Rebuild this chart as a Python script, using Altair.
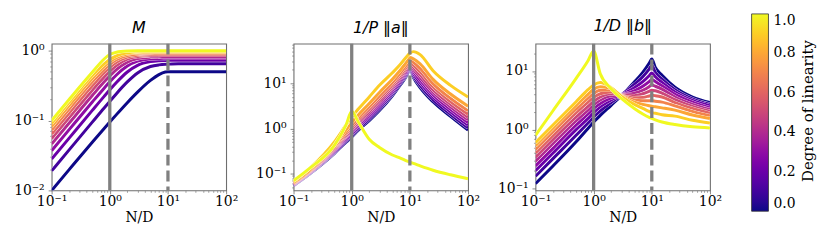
import altair as alt
import pandas as pd

# ---------------- data ----------------
X = [0.1, 0.2, 0.5, 0.8, 1, 1.3, 2, 3, 5, 7, 9, 10, 11.5, 15, 25, 50, 100]
LINEARITY = [0.0, 0.1, 0.2, 0.3, 0.4, 0.5, 0.6, 0.7, 0.8, 0.9, 1.0]

M_CURVES = [
    [0.00995, 0.0198, 0.0488, 0.0768, 0.095, 0.1215, 0.18, 0.255, 0.375, 0.455, 0.495, 0.5, 0.5, 0.5, 0.5, 0.5, 0.5],
    [0.019, 0.038, 0.0949, 0.1514, 0.188, 0.2426, 0.357, 0.480, 0.593, 0.626, 0.6385, 0.641, 0.6444, 0.6474, 0.649, 0.65, 0.65],
    [0.028, 0.056, 0.1397, 0.2219, 0.275, 0.3501, 0.495, 0.617, 0.698, 0.718, 0.7241, 0.726, 0.7272, 0.729, 0.73, 0.73, 0.73],
    [0.037, 0.074, 0.184, 0.2908, 0.358, 0.4484, 0.602, 0.707, 0.761, 0.773, 0.776, 0.777, 0.778, 0.779, 0.78, 0.78, 0.78],
    [0.046, 0.092, 0.228, 0.3576, 0.436, 0.5362, 0.686, 0.769, 0.808, 0.815, 0.817, 0.818, 0.819, 0.82, 0.82, 0.82, 0.82],
    [0.055, 0.11, 0.272, 0.4219, 0.509, 0.6146, 0.755, 0.823, 0.851, 0.857, 0.858, 0.859, 0.859, 0.86, 0.86, 0.86, 0.86],
    [0.064, 0.128, 0.315, 0.4831, 0.576, 0.6817, 0.808, 0.862, 0.884, 0.888, 0.889, 0.889, 0.89, 0.89, 0.89, 0.89, 0.89],
    [0.073, 0.146, 0.358, 0.5412, 0.638, 0.7414, 0.854, 0.898, 0.915, 0.918, 0.919, 0.919, 0.92, 0.92, 0.92, 0.92, 0.92],
    [0.082, 0.164, 0.40, 0.5966, 0.695, 0.795, 0.895, 0.933, 0.946, 0.948, 0.949, 0.949, 0.95, 0.95, 0.95, 0.95, 0.95],
    [0.091, 0.182, 0.441, 0.6483, 0.746, 0.8406, 0.930, 0.961, 0.972, 0.974, 0.975, 0.975, 0.975, 0.975, 0.975, 0.975, 0.975],
    [0.10, 0.20, 0.49, 0.76, 0.88, 0.95, 0.99, 1.0, 1.0, 1.0, 1.0, 1.0, 1.0, 1.0, 1.0, 1.0, 1.0],
]

A_CURVES = [
    [0.055, 0.105, 0.28, 0.50, 0.65, 0.92, 1.5, 2.5, 5.3, 9.5, 15.5, 21.0, 13.5, 8.0, 3.9, 1.85, 0.92],
    [0.0558, 0.1071, 0.2914, 0.5317, 0.6981, 0.9924, 1.632, 2.734, 5.745, 10.23, 16.55, 22.18, 14.78, 9.00, 4.357, 2.066, 1.036],
    [0.0567, 0.1096, 0.3053, 0.5702, 0.7574, 1.082, 1.797, 3.030, 6.308, 11.12, 17.86, 23.62, 16.42, 10.29, 4.946, 2.345, 1.187],
    [0.0577, 0.1122, 0.3199, 0.6114, 0.8215, 1.179, 1.978, 3.357, 6.925, 12.08, 19.27, 25.14, 18.24, 11.77, 5.614, 2.661, 1.359],
    [0.0587, 0.1148, 0.3351, 0.6558, 0.8913, 1.285, 2.178, 3.719, 7.602, 13.13, 20.78, 26.77, 20.25, 13.47, 6.373, 3.020, 1.556],
    [0.0597, 0.1174, 0.3511, 0.7036, 0.9669, 1.400, 2.399, 4.120, 8.344, 14.28, 22.42, 28.51, 22.48, 15.40, 7.233, 3.427, 1.781],
    [0.0608, 0.1205, 0.3698, 0.7610, 1.060, 1.543, 2.673, 4.623, 9.267, 15.68, 24.42, 30.60, 25.30, 17.92, 8.342, 3.952, 2.074],
    [0.0621, 0.1240, 0.3919, 0.8306, 1.173, 1.717, 3.016, 5.254, 10.41, 17.41, 26.85, 33.10, 28.84, 21.21, 9.772, 4.628, 2.456],
    [0.0640, 0.1291, 0.4250, 0.9389, 1.353, 1.996, 3.569, 6.285, 12.26, 20.15, 30.66, 36.94, 34.65, 26.83, 12.20, 5.777, 3.113],
    [0.068, 0.14, 0.50, 1.2, 1.8, 2.7, 5.0, 9.0, 17.0, 27.0, 40.0, 46.0, 50.0, 43.0, 19.0, 9.0, 5.0],
    [0.070, 0.14, 0.42, 1.2, 2.4, 1.4, 0.58, 0.38, 0.26, 0.22, 0.19, 0.18, 0.17, 0.15, 0.12, 0.095, 0.078],
]

B_CURVES = [
    [0.12, 0.24, 0.62, 1.05, 1.35, 1.75, 2.6, 3.8, 6.5, 9.5, 13.5, 16.0, 11.5, 8.5, 5.3, 3.6, 2.9],
    [0.16, 0.32, 0.80, 1.3, 1.65, 2.1, 2.9, 3.9, 5.9, 8.0, 10.8, 12.5, 9.5, 7.3, 4.8, 3.35, 2.7],
    [0.20, 0.40, 1.0, 1.55, 1.95, 2.45, 3.2, 3.9, 5.2, 6.6, 8.3, 9.3, 8.0, 6.4, 4.4, 3.15, 2.55],
    [0.24, 0.48, 1.2, 1.85, 2.3, 2.8, 3.5, 3.9, 4.6, 5.5, 6.6, 7.2, 6.6, 5.6, 4.0, 2.95, 2.35],
    [0.29, 0.58, 1.42, 2.15, 2.65, 3.2, 3.8, 3.9, 4.2, 4.7, 5.4, 5.8, 5.5, 4.9, 3.6, 2.7, 2.2],
    [0.34, 0.68, 1.65, 2.5, 3.05, 3.6, 4.1, 3.9, 3.8, 4.1, 4.5, 4.7, 4.6, 4.2, 3.25, 2.5, 2.05],
    [0.40, 0.80, 1.95, 2.95, 3.55, 4.1, 4.4, 3.85, 3.5, 3.55, 3.75, 3.85, 3.8, 3.6, 2.9, 2.3, 1.9],
    [0.46, 0.92, 2.25, 3.45, 4.15, 4.7, 4.7, 3.8, 3.2, 3.1, 3.1, 3.1, 3.05, 2.95, 2.55, 2.05, 1.72],
    [0.53, 1.06, 2.6, 4.0, 4.9, 5.4, 5.0, 3.75, 2.95, 2.7, 2.55, 2.5, 2.45, 2.35, 2.15, 1.78, 1.55],
    [0.60, 1.2, 3.0, 4.8, 5.8, 6.4, 5.2, 3.7, 2.7, 2.3, 2.05, 1.95, 1.9, 1.8, 1.7, 1.45, 1.3],
    [0.80, 2.1, 7.5, 15.0, 22.0, 9.0, 5.0, 3.4, 2.3, 1.85, 1.62, 1.55, 1.47, 1.35, 1.22, 1.12, 1.07],
]

VLINE_SOLID = [1.0]    # N/D = 1
VLINE_DASHED = [10.0]  # N/D = P/D

PANEL_TITLES = ["M", "1/P ‖a‖", "1/D ‖b‖"]
Y_DOMAINS = [[0.01, 1.26], [0.043, 75], [0.092, 29.3]]
Y_MAJOR = [[0.01, 0.1, 1], [0.1, 1, 10], [0.1, 1, 10]]
Y_MINOR = [
    [0.02, 0.03, 0.04, 0.05, 0.06, 0.07, 0.08, 0.09, 0.2, 0.3, 0.4, 0.5, 0.6, 0.7, 0.8, 0.9],
    [0.05, 0.06, 0.07, 0.08, 0.09, 0.2, 0.3, 0.4, 0.5, 0.6, 0.7, 0.8, 0.9,
     2, 3, 4, 5, 6, 7, 8, 9, 20, 30, 40, 50, 60, 70],
    [0.2, 0.3, 0.4, 0.5, 0.6, 0.7, 0.8, 0.9, 2, 3, 4, 5, 6, 7, 8, 9, 20],
]
X_MAJOR = [0.1, 1, 10, 100]
X_MINOR = [0.2, 0.3, 0.4, 0.5, 0.6, 0.7, 0.8, 0.9, 2, 3, 4, 5, 6, 7, 8, 9,
           20, 30, 40, 50, 60, 70, 80, 90]
CBAR_TICKS = [0.0, 0.2, 0.4, 0.6, 0.8, 1.0]
CBAR_TITLE = ["Degree of linearity"]

# ---------------- styling ----------------
SERIF = "DejaVu Serif"
FRAME = "#6e6e6e"
LABEL_EXPR = ("datum.value < 0.05 ? '10⁻²' : datum.value < 0.5 ? '10⁻¹' : "
              "datum.value < 5 ? '10⁰' : datum.value < 50 ? '10¹' : '10²'")
color_scale = alt.Scale(scheme="plasma", domain=[0, 1])
legend = alt.Legend(
    title=None, orient="none", legendX=706, legendY=-30,
    direction="vertical", gradientLength=199, gradientThickness=17,
    gradientStrokeColor="#333333", gradientStrokeWidth=0.8,
    values=CBAR_TICKS, format=".1f",
    labelFont=SERIF, labelFontSize=14, labelColor="black", labelOffset=5,
    padding=0,
)


def long_table(curves):
    rows = []
    for lin, ys in zip(LINEARITY, curves):
        for x, y in zip(X, ys):
            rows.append({"x": x, "y": y, "lin": lin})
    return pd.DataFrame(rows)


def panel(i, curves, with_cbar_title=False):
    df = long_table(curves)
    xs = alt.Scale(type="log", domain=[0.1, 100], nice=False, padding=0)
    ys = alt.Scale(type="log", domain=Y_DOMAINS[i], nice=False, padding=0)
    base = alt.Chart(df)

    minor = base.mark_point(opacity=0).encode(
        x=alt.X("x:Q", scale=xs, axis=alt.Axis(
            values=X_MINOR, labels=False, tickSize=2, tickWidth=0.6,
            orient="bottom", title=None, domain=False, grid=False)),
        y=alt.Y("y:Q", scale=ys, axis=alt.Axis(
            values=Y_MINOR[i], labels=False, tickSize=2, tickWidth=0.6,
            orient="left", title=None, domain=False, grid=False)),
    )
    major = base.mark_point(opacity=0).encode(
        x=alt.X("x:Q", scale=xs, axis=alt.Axis(
            values=X_MAJOR, labelExpr=LABEL_EXPR, tickSize=3.5, tickWidth=0.8,
            orient="bottom", title="N/D", labelPadding=1, titlePadding=2,
            labelFlush=False, labelOverlap=False, domain=False, grid=False)),
        y=alt.Y("y:Q", scale=ys, axis=alt.Axis(
            values=Y_MAJOR[i], labelExpr=LABEL_EXPR, tickSize=3.5, tickWidth=0.8,
            orient="left", title=None, labelPadding=4, minExtent=36, maxExtent=36,
            labelFlush=False, labelOverlap=False, domain=False, grid=False)),
    )
    layers = [minor, major]
    for lin in LINEARITY:
        sub = base.transform_filter(alt.datum.lin == lin)
        enc = dict(x=alt.X("x:Q", scale=xs, axis=None),
                   y=alt.Y("y:Q", scale=ys, axis=None))
        layers.append(sub.mark_line(strokeWidth=3.6, color="white",
                                    interpolate="monotone", clip=True).encode(**enc))
        layers.append(sub.mark_line(strokeWidth=3, interpolate="monotone", clip=True).encode(
            color=alt.Color("lin:Q", scale=color_scale, legend=legend), **enc))
    layers.append(alt.Chart(pd.DataFrame({"x": VLINE_SOLID})).mark_rule(
        color="#808080", strokeWidth=3.3
    ).encode(x=alt.X("x:Q", scale=xs, axis=None)))
    layers.append(alt.Chart(pd.DataFrame({"x": VLINE_DASHED})).mark_rule(
        color="#808080", strokeWidth=3.3, strokeDash=[11, 5]
    ).encode(x=alt.X("x:Q", scale=xs, axis=None)))
    if with_cbar_title:
        layers.append(alt.Chart(pd.DataFrame({"t": CBAR_TITLE})).mark_text(
            angle=270, font=SERIF, fontSize=15, color="black",
            align="center", baseline="middle"
        ).encode(text="t:N", x=alt.value(275), y=alt.value(68)))

    return alt.layer(*layers).resolve_axis(
        x="independent", y="independent"
    ).properties(
        width=176, height=148,
        title=alt.TitleParams(PANEL_TITLES[i], font="DejaVu Sans", fontStyle="italic",
                              fontWeight="normal", fontSize=16, offset=6, color="black"),
    )


chart = alt.hconcat(
    panel(0, M_CURVES), panel(1, A_CURVES), panel(2, B_CURVES, True),
    spacing=68, bounds="flush"
).properties(
    padding={"left": 5, "top": 5, "right": 5, "bottom": 5}
).configure_view(
    stroke=FRAME, strokeWidth=1.1
).configure_axis(
    tickColor=FRAME, labelFont=SERIF, labelFontSize=14, labelColor="black",
    titleFont=SERIF, titleFontSize=14, titleFontWeight="normal", titleColor="black",
)

chart.save("out.html", embed_options={"renderer": "svg", "actions": False})
